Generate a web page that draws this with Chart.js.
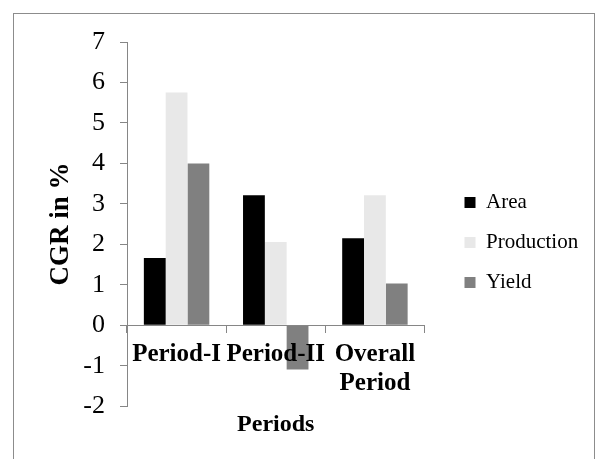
<!DOCTYPE html>
<html lang="en">
<head>
  <meta charset="UTF-8" />
  <title>CGR by Period</title>
  <script src="https://cdn.jsdelivr.net/npm/chart.js"></script>
  <style>
    body {
      margin: 0;
      background: #fff;
    }
    .frame {
      position: absolute;
      left: 13px;
      top: 13px;
      width: 580px;
      height: 470px;
      border: 1px solid #8c8c8c;
    }
    .chart-box {
      position: absolute;
      left: 0;
      top: 0;
      width: 596px;
      height: 459px;
    }
  </style>
</head>
<body>
  <div class="frame"></div>
  <div class="chart-box">
    <canvas id="cgrChart"></canvas>
  </div>

  <script>
    const periods = ['Period-I', 'Period-II', ['Overall', 'Period']];
    const area = [1.66, 3.21, 2.15];
    const production = [5.75, 2.06, 3.21];
    const yieldCgr = [4.0, -1.09, 1.03];
    const yTicks = [-2, -1, 0, 1, 2, 3, 4, 5, 6, 7];

    const serif = 'Liberation Serif, Times New Roman, serif';
    const axisGrey = '#868686';

    // move the legend a bit away from the plot, like the original
    const legendShift = {
      id: 'legendShift',
      afterLayout(chart) {
        const lg = chart.legend;
        lg.left += 21; lg.right += 31;
        lg.top -= 4; lg.bottom -= 4;
      }
    };

    new Chart(document.getElementById('cgrChart'), {
      type: 'bar',
      data: {
        labels: periods,
        datasets: [
          { label: 'Area', data: area, backgroundColor: '#000000' },
          { label: 'Production', data: production, backgroundColor: '#e8e8e8' },
          { label: 'Yield', data: yieldCgr, backgroundColor: '#808080' }
        ]
      },
      options: {
        responsive: true,
        maintainAspectRatio: false,
        animation: false,
        categoryPercentage: 0.66,
        barPercentage: 1.0,
        layout: { padding: { top: 42, left: 45, right: 45, bottom: 8 } },
        scales: {
          x: {
            position: { y: 0 },
            grid: {
              offset: true,
              drawOnChartArea: false,
              tickLength: 7,
              color: axisGrey
            },
            border: { color: axisGrey, width: 1, z: 1 },
            ticks: {
              z: 1,
              color: '#000',
              padding: 8,
              maxRotation: 0,
              minRotation: 0,
              autoSkip: false,
              font: { family: serif, size: 25, weight: 'bold', lineHeight: 1.16 }
            }
          },
          y: {
            min: yTicks[0],
            max: yTicks[yTicks.length - 1],
            afterBuildTicks: axis => { axis.ticks = yTicks.map(v => ({ value: v })); },
            afterFit: axis => { axis.width = 82; },
            grid: {
              drawOnChartArea: false,
              tickLength: 7,
              color: axisGrey
            },
            border: { color: axisGrey, width: 1 },
            ticks: {
              color: '#000',
              padding: 15,
              font: { family: serif, size: 26 }
            },
            title: {
              display: true,
              text: 'CGR in %',
              color: '#000',
              padding: { top: 0, bottom: 0 },
              font: { family: serif, size: 27, weight: 'bold' }
            }
          }
        },
        plugins: {
          legend: {
            position: 'right',
            labels: {
              color: '#000',
              boxWidth: 11,
              boxHeight: 11,
              padding: 19,
              font: { family: serif, size: 21 }
            }
          },
          title: {
            display: true,
            position: 'bottom',
            fullSize: false,
            text: 'Periods',
            color: '#000',
            padding: { top: 4, bottom: 12 },
            font: { family: serif, size: 24, weight: 'bold' }
          },
          tooltip: { enabled: false }
        }
      },
      plugins: [legendShift]
    });
  </script>
</body>
</html>
